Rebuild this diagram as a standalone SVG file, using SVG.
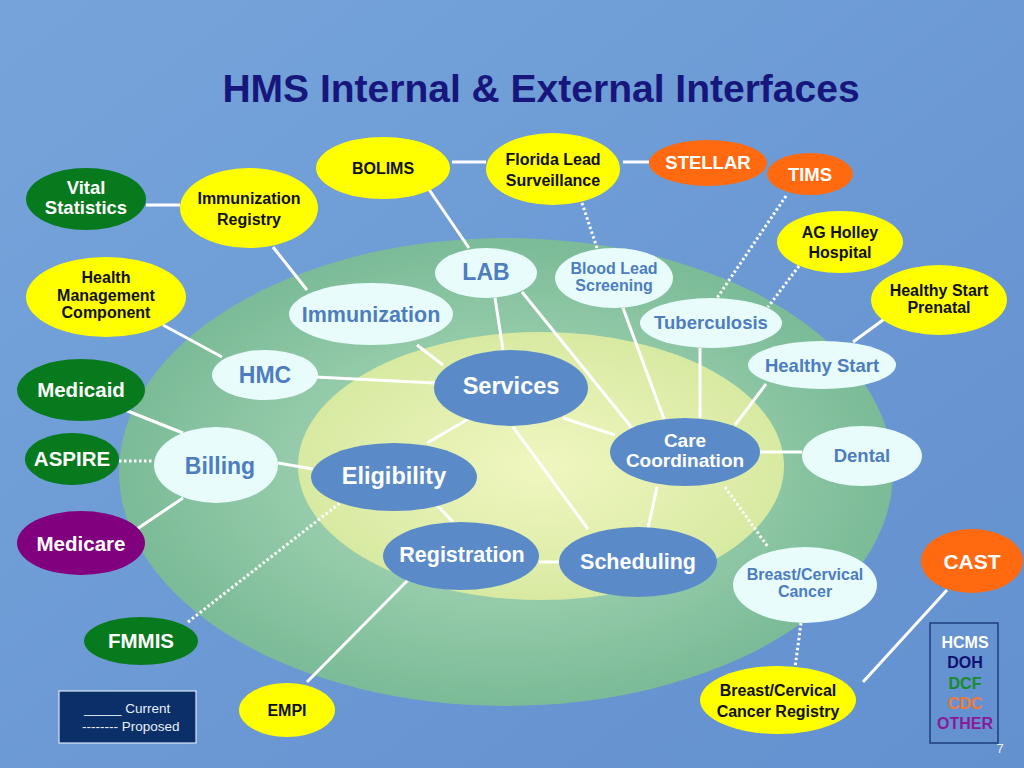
<svg xmlns="http://www.w3.org/2000/svg" width="1024" height="768" viewBox="0 0 1024 768">
<defs>
<linearGradient id="bg" x1="0" y1="0" x2="1" y2="1">
<stop offset="0" stop-color="#76a4da"/><stop offset="1" stop-color="#6390cf"/>
</linearGradient>
<radialGradient id="outerG" cx="0.5" cy="0.5" r="0.5">
<stop offset="0.5" stop-color="#98cdac"/><stop offset="1" stop-color="#7bbb97"/>
</radialGradient>
<radialGradient id="innerG" cx="0.5" cy="0.5" r="0.5">
<stop offset="0" stop-color="#f0f6c0"/><stop offset="1" stop-color="#d8eaa2"/>
</radialGradient>
<style>
text{font-family:"Liberation Sans",Arial,sans-serif;font-weight:bold;text-anchor:middle}
text.n{font-weight:normal}
.yel ellipse{fill:#ffff00}
.yel text{fill:#111111}
.org ellipse{fill:#ff6a10}
.grn ellipse{fill:#067a1c}
.pur ellipse{fill:#80007e}
.org text,.grn text,.pur text{fill:#ffffff}
.lt ellipse{fill:#e8fcfc}
.lt text{fill:#4d7dbf}
.bl ellipse{fill:#5a8bc8}
.bl text{fill:#ffffff}
.c line{stroke:#ffffff;stroke-width:3}
.c line.d{stroke-dasharray:2.5 2.5;stroke-width:3}
</style>
</defs>
<rect width="1024" height="768" fill="url(#bg)"/>
<text x="541" y="102" font-size="39" fill="#16167c">HMS Internal &amp; External Interfaces</text>
<ellipse cx="506" cy="472" rx="387" ry="234" fill="url(#outerG)"/>
<ellipse cx="541" cy="466" rx="243" ry="134" fill="url(#innerG)"/>

<g class="c" id="connectors">
<line x1="146" y1="205" x2="180" y2="205"/>
<line x1="273" y1="247" x2="307" y2="290"/>
<line x1="163" y1="325" x2="222" y2="357"/>
<line x1="452" y1="162" x2="486" y2="162"/>
<line x1="623" y1="162" x2="649" y2="162"/>
<line x1="428" y1="188" x2="469" y2="248"/>
<line class="d" x1="582" y1="203" x2="597" y2="248"/>
<line class="d" x1="786" y1="196" x2="717" y2="298"/>
<line class="d" x1="799" y1="266" x2="768" y2="307"/>
<line x1="887" y1="317" x2="853" y2="342"/>
<line x1="315" y1="377" x2="435" y2="383"/>
<line x1="417" y1="345" x2="443" y2="365"/>
<line x1="495" y1="298" x2="503" y2="350"/>
<line x1="522" y1="292" x2="632" y2="428"/>
<line x1="623" y1="308" x2="664" y2="419"/>
<line x1="700" y1="348" x2="700" y2="418"/>
<line x1="766" y1="384" x2="735" y2="425"/>
<line x1="563" y1="418" x2="615" y2="435"/>
<line x1="513" y1="427" x2="588" y2="529"/>
<line x1="470" y1="418" x2="427" y2="443"/>
<line x1="278" y1="463" x2="313" y2="469"/>
<line x1="435" y1="503" x2="453" y2="522"/>
<line x1="539" y1="562" x2="559" y2="562"/>
<line x1="657" y1="487" x2="648" y2="528"/>
<line x1="759" y1="452" x2="802" y2="452"/>
<line class="d" x1="725" y1="487" x2="768" y2="547"/>
<line class="d" x1="801" y1="623" x2="795" y2="668"/>
<line x1="947" y1="590" x2="863" y2="682"/>
<line x1="120" y1="408" x2="183" y2="433"/>
<line class="d" x1="119" y1="461" x2="154" y2="461"/>
<line x1="137" y1="529" x2="183" y2="498"/>
<line class="d" x1="188" y1="622" x2="340" y2="503"/>
<line x1="408" y1="580" x2="307" y2="682"/>
</g>

<g id="bolims" class="yel"><ellipse cx="383" cy="168" rx="67" ry="31"/><text x="383" y="174" font-size="16">BOLIMS</text></g>
<g id="florida-lead" class="yel"><ellipse cx="553" cy="169" rx="67" ry="36"/><text x="553" y="165" font-size="16">Florida Lead</text><text x="553" y="186" font-size="16">Surveillance</text></g>
<g id="imm-registry" class="yel"><ellipse cx="249" cy="208" rx="69" ry="40"/><text x="249" y="204" font-size="16">Immunization</text><text x="249" y="225" font-size="16">Registry</text></g>
<g id="hmc-comp" class="yel"><ellipse cx="106" cy="297" rx="80" ry="40"/><text x="106" y="283" font-size="16">Health</text><text x="106" y="301" font-size="16">Management</text><text x="106" y="318" font-size="16">Component</text></g>
<g id="ag-holley" class="yel"><ellipse cx="840" cy="242" rx="63" ry="31"/><text x="840" y="238" font-size="16">AG Holley</text><text x="840" y="258" font-size="16">Hospital</text></g>
<g id="hs-prenatal" class="yel"><ellipse cx="939" cy="300" rx="68" ry="35"/><text x="939" y="296" font-size="16">Healthy Start</text><text x="939" y="313" font-size="16">Prenatal</text></g>
<g id="bc-registry" class="yel"><ellipse cx="778" cy="700" rx="78" ry="34"/><text x="778" y="696" font-size="16">Breast/Cervical</text><text x="778" y="717" font-size="16">Cancer Registry</text></g>
<g id="empi" class="yel"><ellipse cx="287" cy="710" rx="48" ry="27"/><text x="287" y="716" font-size="16">EMPI</text></g>

<g id="stellar" class="org"><ellipse cx="708" cy="163" rx="59" ry="23"/><text x="708" y="169" font-size="18.5">STELLAR</text></g>
<g id="tims" class="org"><ellipse cx="810" cy="174" rx="43" ry="21"/><text x="810" y="181" font-size="18.5">TIMS</text></g>
<g id="cast" class="org"><ellipse cx="972" cy="561" rx="51" ry="32"/><text x="972" y="569" font-size="21">CAST</text></g>

<g id="vital" class="grn"><ellipse cx="86" cy="199" rx="60" ry="31"/><text x="86" y="194" font-size="18.5">Vital</text><text x="86" y="214" font-size="18.5">Statistics</text></g>
<g id="medicaid" class="grn"><ellipse cx="81" cy="390" rx="64" ry="31"/><text x="81" y="397" font-size="20.5">Medicaid</text></g>
<g id="aspire" class="grn"><ellipse cx="72" cy="459" rx="47" ry="26"/><text x="72" y="466" font-size="20.5">ASPIRE</text></g>
<g id="fmmis" class="grn"><ellipse cx="141" cy="641" rx="57" ry="24"/><text x="141" y="648" font-size="20.5">FMMIS</text></g>
<g id="medicare" class="pur"><ellipse cx="81" cy="543" rx="64" ry="32"/><text x="81" y="551" font-size="20.5">Medicare</text></g>

<g id="lab" class="lt"><ellipse cx="486" cy="273" rx="51" ry="25"/><text x="486" y="280" font-size="23">LAB</text></g>
<g id="blood-lead" class="lt"><ellipse cx="614" cy="278" rx="59" ry="30"/><text x="614" y="274" font-size="16">Blood Lead</text><text x="614" y="291" font-size="16">Screening</text></g>
<g id="immunization" class="lt"><ellipse cx="371" cy="314" rx="82" ry="31"/><text x="371" y="322" font-size="21.5">Immunization</text></g>
<g id="tuberculosis" class="lt"><ellipse cx="711" cy="323" rx="71" ry="25"/><text x="711" y="329" font-size="18.5">Tuberculosis</text></g>
<g id="healthy-start" class="lt"><ellipse cx="822" cy="365" rx="74" ry="24"/><text x="822" y="372" font-size="18.5">Healthy Start</text></g>
<g id="hmc" class="lt"><ellipse cx="265" cy="375" rx="53" ry="25"/><text x="265" y="383" font-size="23">HMC</text></g>
<g id="billing" class="lt"><ellipse cx="216" cy="465" rx="62" ry="38"/><text x="220" y="474" font-size="23">Billing</text></g>
<g id="dental" class="lt"><ellipse cx="862" cy="456" rx="60" ry="30"/><text x="862" y="462" font-size="18.5">Dental</text></g>
<g id="bc-cancer" class="lt"><ellipse cx="805" cy="585" rx="72" ry="38"/><text x="805" y="580" font-size="16">Breast/Cervical</text><text x="805" y="597" font-size="16">Cancer</text></g>

<g id="services" class="bl"><ellipse cx="511" cy="388" rx="77" ry="38"/><text x="511" y="394" font-size="23.5">Services</text></g>
<g id="eligibility" class="bl"><ellipse cx="394" cy="477" rx="83" ry="34"/><text x="394" y="484" font-size="23.5">Eligibility</text></g>
<g id="registration" class="bl"><ellipse cx="461" cy="556" rx="78" ry="34"/><text x="462" y="562" font-size="21.5">Registration</text></g>
<g id="scheduling" class="bl"><ellipse cx="638" cy="562" rx="79" ry="35"/><text x="638" y="569" font-size="21.5">Scheduling</text></g>
<g id="care-coord" class="bl"><ellipse cx="685" cy="452" rx="75" ry="34"/><text x="685" y="447" font-size="19">Care</text><text x="685" y="467" font-size="19">Coordination</text></g>

<g id="legend">
<rect x="59" y="691" width="137" height="52" fill="#0b2f68" stroke="#d8e6f6" stroke-width="1.2"/>
<text class="n" x="84" y="713" font-size="13.5" fill="#e8f0fa" style="text-anchor:start">_____ Current</text>
<text class="n" x="82" y="731" font-size="13.5" fill="#e8f0fa" style="text-anchor:start">-------- Proposed</text>
</g>
<g id="agencies">
<rect x="930" y="623" width="68" height="120" fill="none" stroke="#1e3f7e" stroke-width="1.5"/>
<text x="965" y="648" font-size="16" fill="#ffffff">HCMS</text>
<text x="965" y="668" font-size="16" fill="#101070">DOH</text>
<text x="965" y="689" font-size="16" fill="#178a2a">DCF</text>
<text x="965" y="709" font-size="16" fill="#f07a3a">CDC</text>
<text x="965" y="729" font-size="16" fill="#8a1a9a">OTHER</text>
</g>
<text class="n" x="1000" y="753" font-size="13" fill="#e8f0fa">7</text>
</svg>
